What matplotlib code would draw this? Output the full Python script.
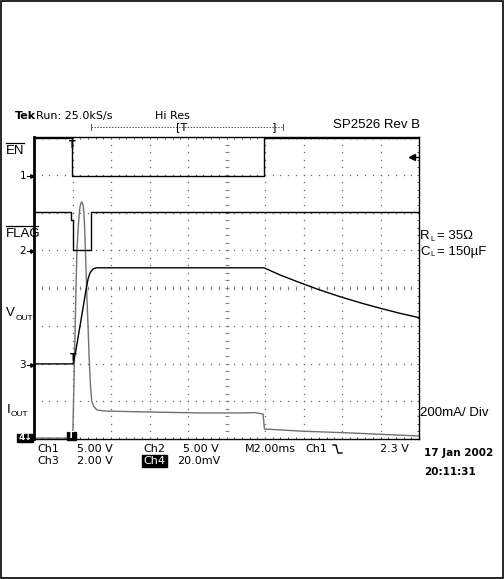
import numpy as np
import matplotlib
matplotlib.use("Agg")
import matplotlib.pyplot as plt
from matplotlib.patches import Rectangle
from matplotlib.lines import Line2D

W, H = 504, 579

# ---------------- data (time in ms, values in channel units) ----------------
en_t = [0, 1.97, 1.97, 11.95, 11.95, 20]
en_v = [5.0, 5.0, 0.0, 0.0, 5.0, 5.0]                     # V, ch1 5 V/div

flag_t = [0, 1.90, 1.90, 2.00, 2.00, 2.98, 2.98, 20]
flag_v = [5.0, 5.0, 4.0, 4.0, 0.0, 0.0, 5.0, 5.0]         # V, ch2 5 V/div

vout_t = [0, 2.03, 2.18, 2.39, 2.60, 2.70, 2.81, 2.91, 3.07, 3.22, 11.95,
          12.78, 13.82, 14.86, 15.90, 16.94, 17.97, 19.01, 20]
vout_v = [0.0, 0.0, 0.74, 2.01, 3.29, 3.92, 4.50, 4.82, 5.03, 5.09, 5.09,
          4.71, 4.30, 3.91, 3.56, 3.24, 2.95, 2.68, 2.45]  # V, ch3 2 V/div

iout_t = [0, 2.01, 2.08, 2.13, 2.18, 2.23, 2.29, 2.34, 2.39, 2.44, 2.49,
          2.55, 2.60, 2.65, 2.70, 2.75, 2.81, 2.86, 2.91, 2.96, 3.01, 3.12,
          3.27, 3.69, 6.03, 8.62, 10.70, 11.48, 11.90, 11.97, 13.82, 16.42, 20]
iout_ma = [5, 5, 313, 551, 789, 1001, 1107, 1181, 1229, 1250, 1256,
           1240, 1192, 1065, 906, 747, 588, 445, 328, 244, 196, 170,
           154, 148, 143, 138, 138, 140, 132, 53, 42, 32, 16]  # mA, 200 mA/div

# channel settings: (units per div, ground offset in divisions)
ch1 = (5.0, 6.97)
ch2 = (5.0, 5.01)
ch3 = (2.0, 1.99)
ch4 = (200.0, 0.0)
ms_per_div = 2.0

# ---------------- figure ----------------
fig = plt.figure(figsize=(W / 100, H / 100), dpi=100)
fig.patch.set_facecolor("white")

L, R, T, B = 34, 419, 137, 439
ax = fig.add_axes([L / W, 1 - B / H, (R - L) / W, (B - T) / H])
ax.set_xlim(0, 10)
ax.set_ylim(0, 8)
ax.set_xticks([])
ax.set_yticks([])
for s in ax.spines.values():
    s.set_linewidth(1.0)
    s.set_color("black")
ax.spines["left"].set_linewidth(2.0)

# graticule
fine = np.arange(0, 10.001, 0.2)
fine_y = np.arange(0, 8.001, 0.2)
dot = dict(ls="none", marker="s", ms=0.9, color="#666666", mew=0)
for gx in range(1, 10):
    ax.plot(np.full_like(fine_y, gx), fine_y, **dot)
for gy in range(1, 8):
    ax.plot(fine, np.full_like(fine, gy), **dot)
# centre cross ticks
ax.plot(fine, np.full_like(fine, 4), ls="none", marker="|", ms=3, mew=0.6, color="#777777")
ax.plot(np.full_like(fine_y, 5), fine_y, ls="none", marker="_", ms=3, mew=0.6, color="#777777")
# border ticks
bt = dict(ls="none", ms=3.5, mew=0.6, color="#333333")
ax.plot(fine, np.full_like(fine, 8), marker="|", **bt)
ax.plot(fine, np.full_like(fine, 0), marker="|", **bt)
ax.plot(np.full_like(fine_y, 10), fine_y, marker="_", **bt)


def to_div(t, v, ch):
    scale, off = ch
    return np.asarray(t) / ms_per_div, off + np.asarray(v) / scale


x, y = to_div(iout_t, iout_ma, ch4)
ax.plot(x, y, color="#707070", lw=1.0)
for tt, vv, ch in [(en_t, en_v, ch1), (flag_t, flag_v, ch2), (vout_t, vout_v, ch3)]:
    x, y = to_div(tt, vv, ch)
    ax.plot(x, y, color="black", lw=1.0)

# trigger "T" markers on traces
ax.text(en_t[1] / ms_per_div, 7.78, "T", fontsize=7, ha="center", va="center",
        family="DejaVu Sans", fontweight="bold")
ax.text(2.03 / ms_per_div, ch3[1] + 0.15, "T", fontsize=7, ha="center", va="center",
        family="DejaVu Sans", fontweight="bold")


# ---------------- text helpers in pixel coordinates ----------------
def ft(px, py, s, **kw):
    kw.setdefault("va", "center")
    kw.setdefault("ha", "left")
    return fig.text(px / W, 1 - py / H, s, **kw)


def fline(xs, ys, **kw):
    fig.add_artist(Line2D([p / W for p in xs], [1 - p / H for p in ys],
                          transform=fig.transFigure, **kw))


def frect(x0, y0, x1, y1, **kw):
    fig.add_artist(Rectangle((x0 / W, 1 - y1 / H), (x1 - x0) / W, (y1 - y0) / H,
                             transform=fig.transFigure, **kw))


helv = "Liberation Sans"
tek = "DejaVu Sans"

# figure outer frame
frect(0.5, 0.5, W - 1, H - 1, fill=False, ec="black", lw=1.2)

# header
ft(15, 116, "Tek", family=tek, fontsize=8, fontweight="bold")
ft(36, 116, "Run: 25.0kS/s", family=tek, fontsize=8)
ft(155, 116, "Hi Res", family=tek, fontsize=8)
fline([91, 283], [127, 127], color="#555555", lw=0.7, ls=(0, (1.5, 1.5)))
fline([91, 91], [124, 130], color="#555555", lw=0.7)
fline([283, 283], [124, 130], color="#555555", lw=0.7)
ft(176, 127, "[T", family=tek, fontsize=8)
ft(272, 127, "]", family=tek, fontsize=8)
ft(333, 125, "SP2526 Rev B", family=helv, fontsize=9.5)

# left labels
ft(6, 151, "EN", family=helv, fontsize=9.5)
fline([6, 24], [143, 143], color="black", lw=0.9)
ft(6, 234, "FLAG", family=helv, fontsize=9.5)
fline([6, 38], [226, 226], color="black", lw=0.9)
ft(6, 313, "V", family=helv, fontsize=9.5)
ft(16, 318, "OUT", family=helv, fontsize=6)
ft(7, 410, "I", family=helv, fontsize=9.5)
ft(11, 415, "OUT", family=helv, fontsize=6)
for lab, py in [("1", 176), ("2", 251), ("3", 365)]:
    ft(26, py, lab, family=tek, fontsize=7.5, ha="right")
    fline([27, 32], [py, py], color="black", lw=0.8)
    fig.add_artist(Line2D([32 / W], [1 - py / H], marker=">", ms=2.5, color="black",
                          transform=fig.transFigure))
# 4 ground marker box
frect(17, 434, 33, 442, fc="black", ec="black")
ft(19, 438, "4\u2193", family=tek, fontsize=6.5, color="white", fontweight="bold")
# ch4 trigger box at bottom
frect(67, 432, 76, 440, fc="black", ec="black")
ft(71.5, 436, "T", family=tek, fontsize=6.5, color="white", ha="center", fontweight="bold")
# trigger level arrow at right
fig.add_artist(Line2D([412 / W], [1 - 157 / H], marker="<", ms=4, color="black",
                      transform=fig.transFigure))
fline([412, 418], [157, 157], color="black", lw=1.0)

# right labels
ft(420, 236, "R", family=helv, fontsize=9.5)
ft(430, 239, "L", family=helv, fontsize=5.5)
ft(437, 236, "= 35\u03a9", family=helv, fontsize=9.5)
ft(420, 252, "C", family=helv, fontsize=9.5)
ft(430, 255, "L", family=helv, fontsize=5.5)
ft(437, 252, "= 150\u00b5F", family=helv, fontsize=9.5)
ft(420, 413, "200mA/ Div", family=helv, fontsize=9.5)
ft(424, 453, "17 Jan 2002", family=tek, fontsize=7.5, fontweight="bold")
ft(424, 472, "20:11:31", family=tek, fontsize=7.5, fontweight="bold")

# bottom readouts
fs = 8
ft(37, 449, "Ch1", family=tek, fontsize=fs)
ft(77, 449, "5.00 V", family=tek, fontsize=fs)
ft(143, 449, "Ch2", family=tek, fontsize=fs)
ft(183, 449, "5.00 V", family=tek, fontsize=fs)
ft(245, 449, "M2.00ms", family=tek, fontsize=fs)
ft(305, 449, "Ch1", family=tek, fontsize=fs)
fline([333, 336, 338, 342], [445, 445, 453, 453], color="black", lw=1.0)
ft(380, 449, "2.3 V", family=tek, fontsize=fs)
ft(37, 461, "Ch3", family=tek, fontsize=fs)
ft(77, 461, "2.00 V", family=tek, fontsize=fs)
frect(142, 455, 167, 467, fc="black", ec="black")
ft(143, 461, "Ch4", family=tek, fontsize=fs, color="white")
ft(177, 461, "20.0mV", family=tek, fontsize=fs)

fig.savefig("out.png", dpi=100)
